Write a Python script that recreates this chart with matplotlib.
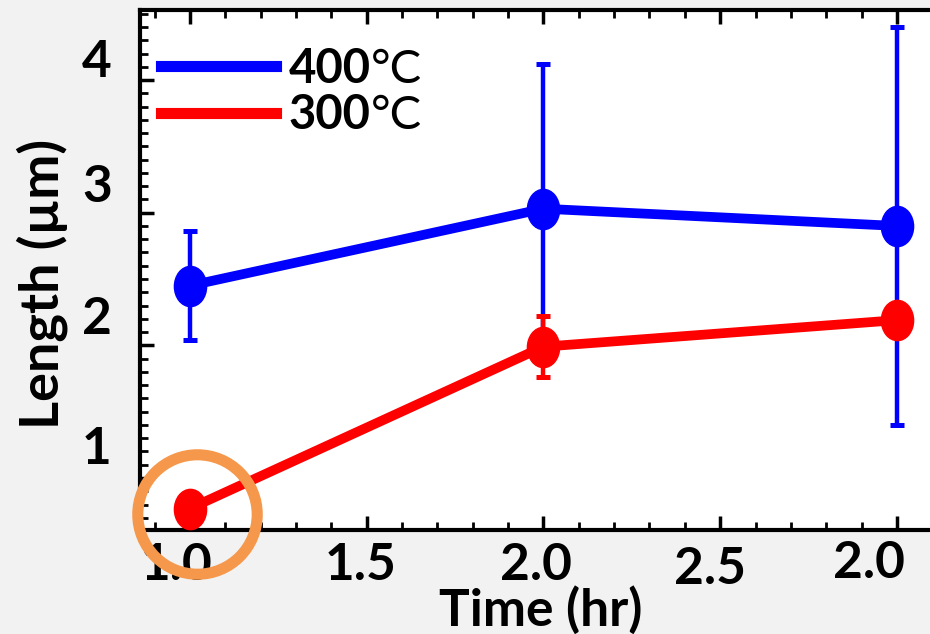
import matplotlib
matplotlib.use("Agg")
import matplotlib.pyplot as plt
from matplotlib.path import Path
from matplotlib.transforms import Affine2D, ScaledTranslation
from matplotlib.ticker import MultipleLocator
from matplotlib.lines import Line2D

# mean length (um) vs anneal time, two temperatures
time_hr = [1.0, 2.0, 3.0]
len_400 = [2.45, 3.03, 2.90]
err_400 = [0.41, 1.09, 1.50]
len_300 = [0.77, 1.99, 2.19]
err_300 = [0.10, 0.23, 0.10]

series_labels = ["400", "300"]
xtick_pos = [1.0, 1.5, 2.0, 2.5, 3.0]
xtick_labels = ["1.0", "1.5", "2.0", "2.5", "2.0"]
ytick_pos = [1, 2, 3, 4]
ytick_labels = ["1", "2", "3", "4"]

BLUE = "#0000ff"
RED = "#ff0000"
ORANGE = "#f5984b"

plt.rcParams["font.family"] = ["Lato", "DejaVu Sans"]

fig = plt.figure(figsize=(9.3, 6.34), dpi=100, facecolor="#f2f2f2")
ax = fig.add_axes([140 / 930, 104 / 634, 805 / 930, 520 / 634])
ax.set_facecolor("white")

# slightly tall oval marker
oval = Path.unit_circle().transformed(Affine2D().scale(0.8, 1.0))

common = dict(lw=7, marker=oval, ms=29, elinewidth=3.2, capsize=4.7, capthick=3.6)
ax.errorbar(time_hr, len_400, yerr=err_400, color=BLUE, ecolor=BLUE, zorder=3, **common)
ax.errorbar(time_hr, len_300, yerr=err_300, color=RED, ecolor=RED, zorder=4, **common)

# highlight ring around the first 300 C point
ring_shift = ax.transData + ScaledTranslation(0.07, -0.05, fig.dpi_scale_trans)
ax.plot([time_hr[0]], [len_300[0]], marker="o", ms=86, mfc="none", mec=ORANGE,
        mew=8, clip_on=False, zorder=10, transform=ring_shift)

ax.set_xlim(0.8586, 3.136)
ax.set_ylim(0.608, 4.528)

for s in ax.spines.values():
    s.set_linewidth(3)
    s.set_color("black")

ax.xaxis.set_minor_locator(MultipleLocator(0.1))
ax.yaxis.set_minor_locator(MultipleLocator(0.1))
ax.tick_params(which="both", direction="in", top=True, right=True, color="black")
ax.tick_params(which="major", length=10, width=2.5)
ax.tick_params(which="minor", length=6, width=2)
ax.tick_params(axis="x", which="major", pad=9)
ax.tick_params(axis="y", which="major", pad=31)

ax.set_xticks(xtick_pos)
ax.set_xticklabels(xtick_labels, fontsize=37, fontweight="bold")
ax.set_yticks(ytick_pos)
ax.set_yticklabels(ytick_labels, fontsize=37, fontweight="bold")

# the tick labels sit a little off their ticks
x_shift = [(-13, 0), (-6, 0), (-8, 0), (-10, -4), (-28, 3)]
for lab, (dx, dy) in zip(ax.get_xticklabels(), x_shift):
    lab.set_transform(lab.get_transform() + ScaledTranslation(dx / 100, dy / 100, fig.dpi_scale_trans))
y_shift = [33, 30, 30, 22]
for lab, dy in zip(ax.get_yticklabels(), y_shift):
    lab.set_horizontalalignment("center")
    lab.set_transform(lab.get_transform() + ScaledTranslation(0, dy / 100, fig.dpi_scale_trans))

ax.set_xlabel("Time (hr)", fontsize=37, fontweight="bold")
ax.xaxis.set_label_coords(0.4975, -0.108)
ax.set_ylabel("Length (µm)", fontsize=39, fontweight="bold")
ax.yaxis.set_label_coords(-0.089, 0.474)

handles = [Line2D([], [], color=BLUE, lw=8), Line2D([], [], color=RED, lw=8)]
leg = ax.legend(handles, series_labels, loc="upper left", bbox_to_anchor=(0.026, 0.929),
                frameon=False, prop=dict(weight="bold", size=34), handlelength=2.43,
                handletextpad=0.28, labelspacing=0.05, borderpad=0, borderaxespad=0)
leg.set_zorder(20)
for t in leg.get_texts():
    ax.annotate("°C", xy=(1, 0), xycoords=t, va="bottom", ha="left",
                fontsize=34, fontweight="normal", zorder=21)

fig.savefig("out.png", dpi=100, facecolor=fig.get_facecolor())
